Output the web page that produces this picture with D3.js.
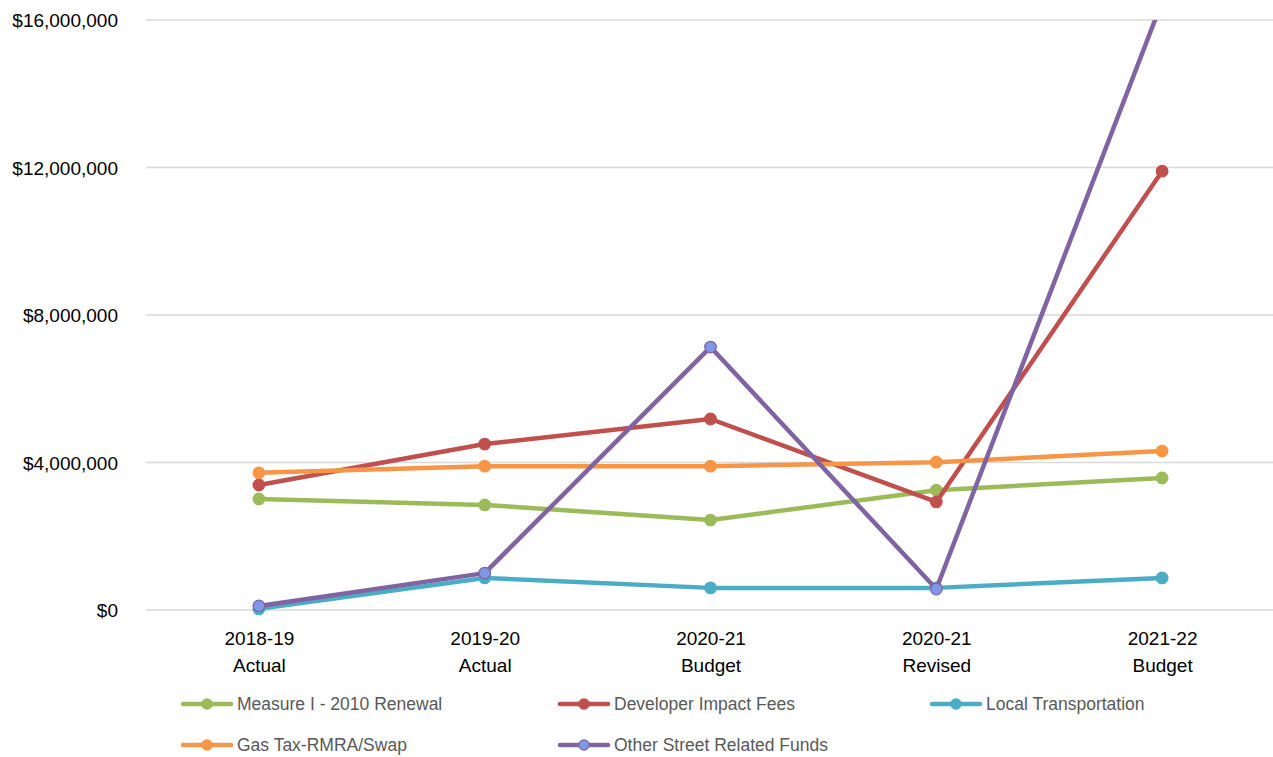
<!DOCTYPE html>
<html>
<head>
<meta charset="utf-8">
<script src="https://cdn.jsdelivr.net/npm/d3@7"></script>
<style>
  html, body { margin: 0; padding: 0; background: #ffffff; }
  svg { display: block; font-family: "Liberation Sans", Arial, sans-serif; }
</style>
</head>
<body>
<svg id="chart" width="1273" height="757"></svg>
<script>
// Street funding sources by fiscal year
const categories = [
  ["2018-19", "Actual"],
  ["2019-20", "Actual"],
  ["2020-21", "Budget"],
  ["2020-21", "Revised"],
  ["2021-22", "Budget"]
];
const measureI      = [3010000, 2850000, 2440000, 3250000, 3580000];
const developerFees = [3390000, 4500000, 5180000, 2930000, 11900000];
const localTransp   = [30000, 870000, 600000, 600000, 870000];
const gasTax        = [3720000, 3900000, 3900000, 4010000, 4310000];
const otherStreet   = [110000, 1000000, 7130000, 570000, 16500000];
const seriesNames   = ["Measure I - 2010 Renewal", "Developer Impact Fees", "Local Transportation", "Gas Tax-RMRA/Swap", "Other Street Related Funds"];
const seriesColors  = ["#9bbb59", "#c0504d", "#4bacc6", "#f79646", "#8064a2"];
const yTicks        = [0, 4000000, 8000000, 12000000, 16000000];

const seriesValues = [measureI, developerFees, localTransp, gasTax, otherStreet];
const series = seriesNames.map((name, i) => ({
  name,
  color: seriesColors[i],
  values: seriesValues[i],
  markerFill: i === 4 ? "#7f97e6" : seriesColors[i],
  markerStroke: seriesColors[i]
}));

const svg = d3.select("#chart");
const plotLeft = 146, plotRight = 1275, plotTop = 20, plotBottom = 610;

const x = d3.scalePoint()
  .domain(d3.range(categories.length))
  .range([plotLeft, plotRight])
  .padding(0.5);

const y = d3.scaleLinear()
  .domain([0, 16000000])
  .range([plotBottom, plotTop]);

// Horizontal gridlines
svg.append("g")
  .selectAll("line")
  .data(yTicks)
  .join("line")
  .attr("x1", plotLeft).attr("x2", plotRight)
  .attr("y1", d => y(d)).attr("y2", d => y(d))
  .attr("stroke", "#d9d9d9")
  .attr("stroke-width", 1.5);

// Y axis labels
const yAxis = d3.axisLeft(y)
  .tickValues(yTicks)
  .tickSize(0)
  .tickPadding(0)
  .tickFormat(d => "$" + d3.format(",")(d));
svg.append("g")
  .attr("transform", `translate(118,0)`)
  .call(yAxis)
  .call(g => g.select(".domain").remove())
  .call(g => g.selectAll("text")
    .attr("font-size", 19)
    .attr("font-family", "Liberation Sans, Arial, sans-serif")
    .attr("fill", "#000000")
    .attr("dy", "0.35em"));

// X axis labels (two lines)
const xAxis = d3.axisBottom(x).tickSize(0).tickFormat("");
const xg = svg.append("g")
  .attr("transform", `translate(0,${plotBottom})`)
  .call(xAxis)
  .call(g => g.select(".domain").remove());
xg.selectAll(".tick").each(function(i) {
  const t = d3.select(this).append("text")
    .attr("text-anchor", "middle")
    .attr("font-size", 19)
    .attr("font-family", "Liberation Sans, Arial, sans-serif")
    .attr("fill", "#000000");
  t.append("tspan").attr("x", 0).attr("y", 35).text(categories[i][0]);
  t.append("tspan").attr("x", 0).attr("y", 62).text(categories[i][1]);
});

// Clip lines to the plot area
svg.append("defs").append("clipPath").attr("id", "plot-clip")
  .append("rect")
  .attr("x", plotLeft).attr("y", plotTop)
  .attr("width", plotRight - plotLeft).attr("height", plotBottom - plotTop + 10);

const line = d3.line()
  .x((d, i) => x(i))
  .y(d => y(d));

const plot = svg.append("g").attr("clip-path", "url(#plot-clip)");

series.forEach(s => {
  const g = plot.append("g");
  g.append("path")
    .datum(s.values)
    .attr("d", line)
    .attr("fill", "none")
    .attr("stroke", s.color)
    .attr("stroke-width", 4.5)
    .attr("stroke-linejoin", "round")
    .attr("stroke-linecap", "round");
  g.selectAll("circle")
    .data(s.values.map((v, i) => ({ v, i })).filter(d => d.v <= 16000000))
    .join("circle")
    .attr("cx", d => x(d.i))
    .attr("cy", d => y(d.v))
    .attr("r", 5.8)
    .attr("fill", s.markerFill)
    .attr("stroke", s.markerStroke)
    .attr("stroke-width", 1.2);
});

// Legend
const legendPos = [[183, 704], [560, 704], [932, 704], [183, 745], [560, 745]];
const legend = svg.append("g");
series.forEach((s, i) => {
  const [lx, ly] = legendPos[i];
  const g = legend.append("g").attr("transform", `translate(${lx},${ly})`);
  g.append("line")
    .attr("x1", 0).attr("x2", 48)
    .attr("y1", 0).attr("y2", 0)
    .attr("stroke", s.color)
    .attr("stroke-width", 4.5)
    .attr("stroke-linecap", "round");
  g.append("circle")
    .attr("cx", 24).attr("cy", 0).attr("r", 5.2)
    .attr("fill", s.markerFill)
    .attr("stroke", s.markerStroke)
    .attr("stroke-width", 1.2);
  g.append("text")
    .attr("x", 54).attr("y", 0)
    .attr("dy", "0.35em")
    .attr("font-size", 17.5)
    .attr("font-family", "Liberation Sans, Arial, sans-serif")
    .attr("fill", "#595959")
    .text(s.name);
});
</script>
</body>
</html>
